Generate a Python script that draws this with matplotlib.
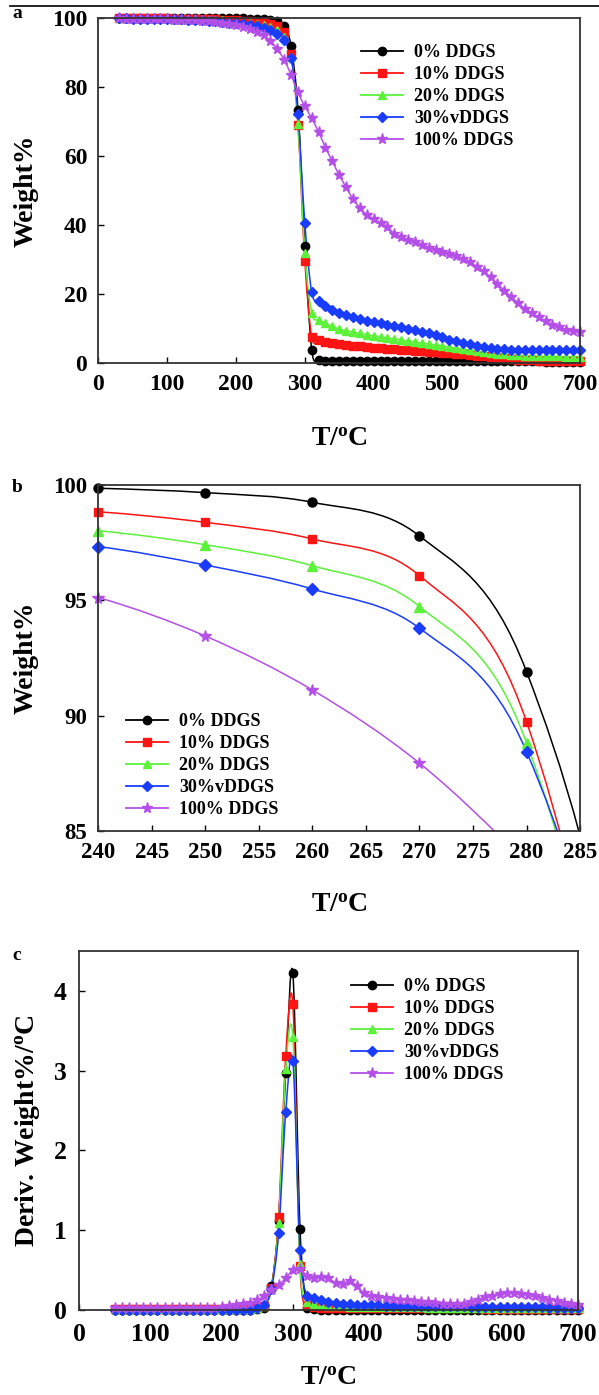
import numpy as np
import matplotlib
matplotlib.use("Agg")
from matplotlib import pyplot as plt
from matplotlib.path import Path
from matplotlib.patches import PathPatch
from matplotlib.lines import Line2D

plt.rcParams['font.family'] = ['Liberation Serif', 'DejaVu Serif']
plt.rcParams['font.weight'] = 'bold'
plt.rcParams['mathtext.default'] = 'regular'

labels = ["0% DDGS", "10% DDGS", "20% DDGS", "30%vDDGS", "100% DDGS"]
colors = ["#000000", "#ff1414", "#5cf23a", "#1a3cff", "#b44fe8"]
markers = ["o", "s", "^", "D", "*"]

# TGA, panel a (and b)
temp_a = list(range(30, 701, 10))
w0 = [100.0, 100.0, 100.0, 100.0, 100.0, 100.0, 100.0, 100.0, 100.0, 100.0,
      100.0, 100.0, 100.0, 100.0, 100.0, 100.0, 100.0, 99.99, 99.98, 99.97,
      99.93, 99.86, 99.67, 99.25, 97.79, 91.91, 73.5, 34.0, 3.8, 0.8,
      0.7, 0.7, 0.7, 0.7, 0.7, 0.7, 0.6, 0.6, 0.6, 0.6,
      0.6, 0.6, 0.6, 0.6, 0.6, 0.6, 0.6, 0.6, 0.6, 0.6,
      0.5, 0.5, 0.5, 0.5, 0.5, 0.5, 0.5, 0.5, 0.5, 0.5,
      0.5, 0.5, 0.4, 0.4, 0.4, 0.4, 0.4, 0.4]
w10 = [100.0, 100.0, 100.0, 100.0, 100.0, 100.0, 100.0, 100.0, 99.95, 99.9,
       99.9, 99.85, 99.8, 99.75, 99.7, 99.6, 99.5, 99.4, 99.3, 99.2,
       99.05, 98.84, 98.38, 97.66, 96.07, 89.74, 69.0, 29.5, 7.5, 6.6,
       6.1, 5.7, 5.4, 5.2, 5.0, 4.8, 4.6, 4.4, 4.3, 4.1,
       4.0, 3.8, 3.7, 3.6, 3.4, 3.3, 3.2, 3.0, 2.9, 2.7,
       2.5, 2.3, 2.1, 1.9, 1.7, 1.5, 1.3, 1.1, 1.0, 0.9,
       0.8, 0.7, 0.7, 0.6, 0.6, 0.5, 0.5, 0.5]
w20 = [100.0, 100.0, 100.0, 100.0, 100.0, 100.0, 100.0, 100.0, 99.95, 99.9,
       99.85, 99.8, 99.7, 99.6, 99.5, 99.4, 99.2, 99.0, 98.8, 98.6,
       98.3, 98.02, 97.41, 96.50, 94.73, 88.83, 69.5, 32.0, 14.5, 12.5,
       11.5, 10.6, 9.9, 9.4, 9.0, 8.6, 8.2, 7.9, 7.6, 7.3,
       7.0, 6.7, 6.4, 6.1, 5.8, 5.5, 5.2, 4.9, 4.6, 4.3,
       4.0, 3.7, 3.4, 3.1, 2.9, 2.7, 2.5, 2.3, 2.2, 2.1,
       2.0, 2.0, 1.9, 1.9, 1.9, 1.8, 1.8, 1.8]
w30 = [100.0, 100.0, 99.95, 99.9, 99.9, 99.85, 99.8, 99.8, 99.75, 99.7,
       99.6, 99.5, 99.4, 99.3, 99.2, 99.0, 98.8, 98.6, 98.3, 98.0,
       97.7, 97.33, 96.53, 95.49, 93.79, 88.44, 72.2, 40.5, 20.5, 18.0,
       16.6, 15.5, 14.6, 13.9, 13.3, 12.8, 12.3, 11.9, 11.5, 11.1,
       10.7, 10.3, 9.9, 9.5, 9.1, 8.6, 8.0, 7.4, 6.8, 6.3,
       5.8, 5.4, 5.0, 4.7, 4.4, 4.2, 4.0, 3.9, 3.8, 3.8,
       3.8, 3.8, 3.7, 3.7, 3.7, 3.7, 3.7, 3.7]
w100 = [100.0, 99.9, 99.9, 99.85, 99.8, 99.8, 99.75, 99.7, 99.65, 99.6,
        99.5, 99.4, 99.3, 99.2, 99.0, 98.8, 98.5, 98.1, 97.6, 96.9,
        96.1, 95.12, 93.45, 91.11, 87.94, 83.6, 78.5, 74.5, 71.0, 67.0,
        62.5, 58.5, 54.5, 51.0, 47.5, 45.0, 43.0, 41.8, 40.6, 39.5,
        37.5, 36.6, 35.8, 35.0, 34.2, 33.5, 32.8, 32.2, 31.6, 31.0,
        30.3, 29.3, 28.0, 26.6, 24.9, 23.0, 21.0, 19.2, 17.4, 15.8,
        14.5, 13.2, 12.1, 11.1, 10.3, 9.7, 9.2, 8.9]

# DTG, panel c
temp_c = list(range(50, 701, 10))
d0 = [0.0] * 20 + [0.01, 0.03, 0.30, 1.12, 2.97, 4.22, 1.02, 0.03, 0.01, 0.0] + [0.0] * 36
d10 = [0.01] * 20 + [0.02, 0.05, 0.28, 1.17, 3.18, 3.83, 0.55, 0.06, 0.04, 0.03,
                     0.03, 0.03, 0.02, 0.02, 0.02, 0.02, 0.02, 0.02, 0.02, 0.02,
                     0.02, 0.02, 0.02, 0.02, 0.02, 0.02, 0.02, 0.02, 0.02, 0.02,
                     0.02, 0.02, 0.01, 0.01, 0.01, 0.01, 0.01, 0.01, 0.01, 0.01,
                     0.01, 0.01, 0.01, 0.01, 0.01, 0.01]
d20 = [0.01] * 20 + [0.02, 0.05, 0.27, 1.09, 3.02, 3.42, 0.58, 0.10, 0.07, 0.06,
                     0.05, 0.05, 0.05, 0.04, 0.04, 0.04, 0.04, 0.04, 0.04, 0.04,
                     0.04, 0.04, 0.04, 0.04, 0.03, 0.03, 0.03, 0.03, 0.03, 0.03,
                     0.03, 0.03, 0.02, 0.02, 0.02, 0.02, 0.02, 0.02, 0.02, 0.02,
                     0.02, 0.02, 0.02, 0.02, 0.02, 0.02]
d30 = [0.0] * 20 + [0.02, 0.06, 0.27, 0.96, 2.48, 3.12, 0.75, 0.18, 0.15, 0.12,
                    0.10, 0.09, 0.08, 0.07, 0.06, 0.06, 0.06, 0.06, 0.05, 0.05,
                    0.05, 0.05, 0.05, 0.05, 0.05, 0.05, 0.05, 0.05, 0.05, 0.05,
                    0.04, 0.04, 0.04, 0.04, 0.04, 0.04, 0.04, 0.04, 0.04, 0.04,
                    0.04, 0.03, 0.03, 0.03, 0.03, 0.02]
d100 = [0.02, 0.02, 0.02, 0.02, 0.02, 0.02, 0.02, 0.02, 0.02, 0.02,
        0.02, 0.02, 0.03, 0.03, 0.03, 0.04, 0.05, 0.06, 0.07, 0.09,
        0.12, 0.18, 0.25, 0.31, 0.40, 0.50, 0.51, 0.43, 0.40, 0.42,
        0.40, 0.34, 0.33, 0.36, 0.30, 0.21, 0.17, 0.16, 0.15, 0.14,
        0.13, 0.12, 0.11, 0.10, 0.10, 0.09, 0.08, 0.08, 0.07, 0.08,
        0.10, 0.13, 0.16, 0.18, 0.20, 0.21, 0.21, 0.20, 0.19, 0.17,
        0.15, 0.13, 0.11, 0.09, 0.07, 0.06]

tga = [w0, w10, w20, w30, w100]
dtg = [d0, d10, d20, d30, d100]

ms = [6, 5.5, 6, 5.5, 8]


def smooth_line(ax, x, y, color, lw=1.1):
    # excel style smoothed line: cubic bezier through every point
    p = np.column_stack([x, y]).astype(float)
    n = len(p)
    verts = [p[0]]
    codes = [Path.MOVETO]
    for i in range(n - 1):
        prev = p[max(i - 1, 0)]
        nxt = p[min(i + 2, n - 1)]
        c1 = p[i] + (p[i + 1] - prev) / 6.0
        c2 = p[i + 1] - (nxt - p[i]) / 6.0
        verts += [c1, c2, p[i + 1]]
        codes += [Path.CURVE4] * 3
    ax.add_patch(PathPatch(Path(verts, codes), fill=False, edgecolor=color, lw=lw))


def style_axes(ax, tick_size, pad):
    for s in ax.spines.values():
        s.set_color("#333333")
        s.set_linewidth(1.3)
    ax.tick_params(direction="in", length=4, width=1, top=False, right=False,
                   labelsize=tick_size, pad=pad)
    for t in ax.get_xticklabels() + ax.get_yticklabels():
        t.set_fontweight("bold")


def add_legend(ax, x_px, top_px, size=13):
    handles = [Line2D([], [], color=c, marker=m, markersize=s, lw=1.3)
               for c, m, s in zip(colors, markers, ms)]
    ax.legend(handles, labels, loc="upper left", frameon=False,
              bbox_to_anchor=(x_px / 599, 1 - top_px / 1395),
              bbox_transform=fig.transFigure, borderpad=0, borderaxespad=0,
              handlelength=2.35, handletextpad=0.6, labelspacing=0.28,
              prop={"family": "Liberation Serif", "weight": "bold", "size": size})


fig = plt.figure(figsize=(5.99, 13.95), dpi=100)
axA = fig.add_axes([0.1644, 0.7398, 0.8039, 0.2470])
axB = fig.add_axes([0.1644, 0.4043, 0.8039, 0.2480])
axC = fig.add_axes([0.1319, 0.0609, 0.8330, 0.2574])

xlab = "T/$^{o}$C"
lab_font = {"family": "Liberation Serif", "weight": "bold", "size": 20}

# panel a
for y, c, m, s in zip(tga, colors, markers, ms):
    smooth_line(axA, temp_a, y, c)
    axA.plot(temp_a, y, ls="none", marker=m, color=c, markersize=s, clip_on=False)
axA.set_xlim(0, 700)
axA.set_ylim(0, 100)
axA.set_xticks(range(0, 701, 100))
axA.set_yticks(range(0, 101, 20))
style_axes(axA, 17, 8)
axA.set_xlabel(xlab, fontdict=lab_font)
axA.set_ylabel("Weight%", fontdict=lab_font)
axA.xaxis.set_label_coords(0.5, -0.222)
axA.xaxis.label.set_va("center")
axA.yaxis.set_label_coords(-0.1506, 0.5)
axA.yaxis.label.set_va("center")
add_legend(axA, 361, 44)

# panel b (zoom of the same TGA data)
temp_b = [t for t in temp_a if 230 <= t <= 300]
for y, c, m, s in zip(tga, colors, markers, ms):
    yb = [v for t, v in zip(temp_a, y) if 230 <= t <= 300]
    smooth_line(axB, temp_b, yb, c)
    tm = [t for t, v in zip(temp_b, yb) if t >= 240 and v >= 85]
    vm = [v for t, v in zip(temp_b, yb) if t >= 240 and v >= 85]
    axB.plot(tm, vm, ls="none", marker=m, color=c, markersize=s + 0.5, clip_on=False)
axB.set_xlim(240, 285)
axB.set_ylim(85, 100)
axB.set_xticks(range(240, 286, 5))
axB.set_yticks(range(85, 101, 5))
style_axes(axB, 16.5, 8)
axB.set_xlabel(xlab, fontdict=lab_font)
axB.set_ylabel("Weight%", fontdict=lab_font)
axB.xaxis.set_label_coords(0.5, -0.214)
axB.xaxis.label.set_va("center")
axB.yaxis.set_label_coords(-0.1506, 0.5)
axB.yaxis.label.set_va("center")
add_legend(axB, 126, 713)

# panel c
for y, c, m, s in zip(dtg, colors, markers, ms):
    smooth_line(axC, temp_c, y, c)
    axC.plot(temp_c, y, ls="none", marker=m, color=c, markersize=s, clip_on=False)
axC.set_xlim(0, 700)
axC.set_ylim(0, 4.5)
axC.set_xticks(range(0, 701, 100))
axC.set_yticks(range(0, 5))
style_axes(axC, 18.5, 9)
axC.set_xlabel(xlab, fontdict=lab_font)
axC.set_ylabel("Deriv. Weight%/$^{o}$C", fontdict=lab_font)
axC.xaxis.set_label_coords(0.5, -0.19)
axC.xaxis.label.set_va("center")
axC.yaxis.set_label_coords(-0.104, 0.5)
axC.yaxis.label.set_va("center")
add_legend(axC, 351, 978)

# panel letters and top rule
for letter, ypx in [("a", 14), ("b", 488), ("c", 955)]:
    fig.text(17 / 599, 1 - ypx / 1395, letter, ha="center", va="center",
             fontsize=14, fontweight="bold", family="Liberation Serif")
fig.add_artist(Line2D([10 / 599, 1], [1 - 6 / 1395] * 2, color="black", lw=1.2,
                      transform=fig.transFigure))

fig.savefig("out.png", dpi=100)
